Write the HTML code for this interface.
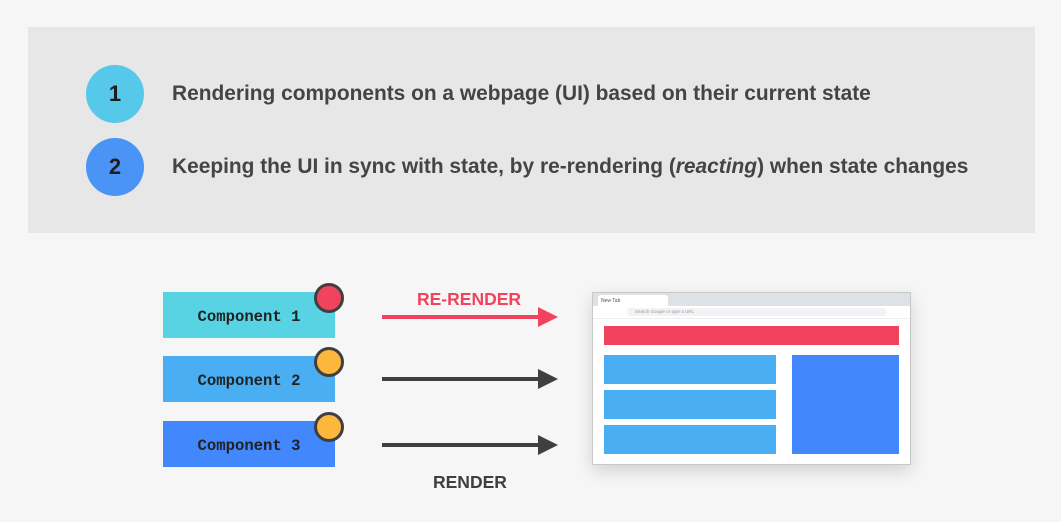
<!DOCTYPE html>
<html><head><style>
*{margin:0;padding:0;box-sizing:border-box}
body{width:1061px;height:522px;background:#f6f6f6;position:relative;overflow:hidden;font-family:"Liberation Sans",sans-serif}
.a{position:absolute}
.panel{left:28px;top:27px;width:1007px;height:206px;background:#e7e7e7}
.num{width:58px;height:58px;border-radius:50%;font-weight:bold;font-size:22px;color:#1d1d1d;text-align:center;line-height:58px}
.t{font-size:20.9px;font-weight:bold;color:#444;white-space:nowrap}
.comp{left:163px;width:172px;height:46px;font-family:"Liberation Mono",monospace;font-weight:bold;font-size:15.6px;color:#222;text-align:center;line-height:50px}
.dot{width:30px;height:30px;border-radius:50%;border:3px solid #3f3f3f}
</style></head><body>
<div class="a panel"></div>
<div class="a num" style="left:86px;top:65px;background:#56c8ea">1</div>
<div class="a num" style="left:86px;top:138px;background:#4a94f6">2</div>
<div class="a t" style="left:172px;top:82px">Rendering components on a webpage (UI) based on their current state</div>
<div class="a t" style="left:172px;top:155px">Keeping the UI in sync with state, by re-rendering (<i>reacting</i>) when state changes</div>

<div class="a comp" style="top:292px;background:#58d3e4">Component 1</div>
<div class="a comp" style="top:356px;background:#4aaef2">Component 2</div>
<div class="a comp" style="top:421px;background:#4287fb">Component 3</div>
<div class="a dot" style="left:314px;top:283px;background:#f2435e"></div>
<div class="a dot" style="left:314px;top:347px;background:#fdb73c"></div>
<div class="a dot" style="left:314px;top:412px;background:#fdb73c"></div>

<div class="a" style="left:417px;top:289px;font-weight:bold;font-size:17.5px;color:#f2435e">RE-RENDER</div>
<div class="a" style="left:433px;top:472px;font-weight:bold;font-size:17.5px;color:#3f3f3f">RENDER</div>
<svg class="a" style="left:0;top:0" width="1061" height="522">
<line x1="382" y1="317" x2="542" y2="317" stroke="#f2435e" stroke-width="4"/><polygon points="538,307 558,317 538,327" fill="#f2435e"/>
<line x1="382" y1="379" x2="542" y2="379" stroke="#3f3f3f" stroke-width="4"/><polygon points="538,369 558,379 538,389" fill="#3f3f3f"/>
<line x1="382" y1="445" x2="542" y2="445" stroke="#3f3f3f" stroke-width="4"/><polygon points="538,435 558,445 538,455" fill="#3f3f3f"/>
</svg>

<div class="a" style="left:592px;top:292px;width:319px;height:173px;background:#fff;border:1px solid #c8c8c8;box-shadow:0 6px 16px rgba(0,0,0,.15)">
 <div class="a" style="left:0;top:0;width:317px;height:13px;background:#dee1e6"></div>
 <div class="a" style="left:5px;top:2px;width:70px;height:11px;background:#fff;border-radius:3px 3px 0 0;font-size:5px;color:#555;padding:3px 3px">New Tab</div>
 <div class="a" style="left:0;top:13px;width:317px;height:13px;background:#fff;border-bottom:1px solid #eee"></div>
 <div class="a" style="left:34px;top:15px;width:260px;height:8px;background:#f1f3f4;border-radius:4px;font-size:4.5px;color:#999;padding:1px 8px">Search Google or type a URL</div>
</div>
<div class="a" style="left:604px;top:326px;width:295px;height:19px;background:#f2435e"></div>
<div class="a" style="left:604px;top:355px;width:172px;height:29px;background:#4aaef2"></div>
<div class="a" style="left:604px;top:390px;width:172px;height:29px;background:#4aaef2"></div>
<div class="a" style="left:604px;top:425px;width:172px;height:29px;background:#4aaef2"></div>
<div class="a" style="left:792px;top:355px;width:107px;height:99px;background:#4287fb"></div>
</body></html>
